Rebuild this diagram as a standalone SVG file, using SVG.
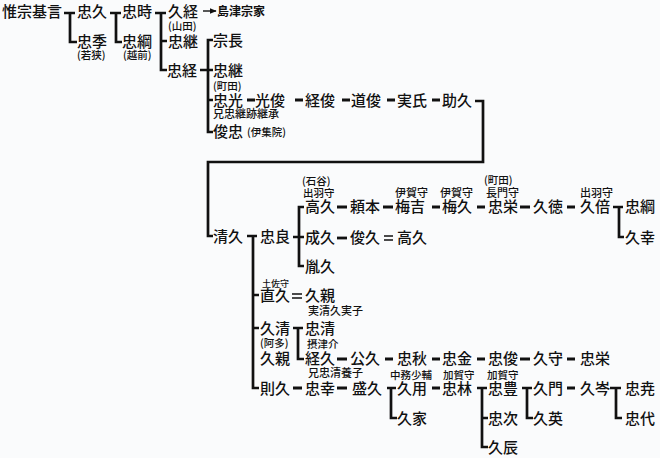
<svg xmlns="http://www.w3.org/2000/svg" width="660" height="458" viewBox="0 0 660 458">
<defs>
<style>
text{font-family:"Noto Sans CJK JP","Noto Sans CJK SC",sans-serif;fill:#111;}
.n{font-size:15px;font-weight:500;}
.s{font-size:10.5px;font-weight:500;}
.m{font-size:11px;font-weight:500;}
.t{font-size:9px;font-weight:500;}
.c{fill:none;stroke:#111;stroke-width:2.7;}
.d{fill:none;stroke:#111;stroke-width:2.8;}
.e{fill:none;stroke:#111;stroke-width:1.4;}
.a{fill:none;stroke:#111;stroke-width:1.4;}
</style>
<marker id="ah" viewBox="0 0 10 10" refX="9" refY="5" markerWidth="5" markerHeight="5" orient="auto">
<path d="M0,1 L10,5 L0,9 z" fill="#111"/>
</marker>
</defs>
<rect width="660" height="458" fill="#fafbfc"/>
<g id="connectors">
<path class="c" d="M64,13 H75 M70,13 V42 H77"/>
<path class="c" d="M110,13 H121 M116,13 V42 H122"/>
<path class="c" d="M155,13 H166 M161,13 V70 H167 M161,41 H167"/>
<path class="a" d="M203,11 H216" marker-end="url(#ah)"/>
<path class="c" d="M200,70 H213 M213,40 H208 V132 H213 M208,100 H213"/>
<path class="d" d="M247,100 H255 M295,100 H303 M342,100 H350 M387,100 H395 M432,100 H440"/>
<path class="c" d="M475,101 H483 V162 H208 V236 H213"/>
<path class="c" d="M247,236 H257 M253,236 V388 H259 M253,295 H259 M253,328 H259"/>
<path class="c" d="M293,237 H304 M304,207 H299 V266 H304"/>
<path class="d" d="M337,207 H347 M383,207 H393 M432,207 H440 M477,207 H485 M520,207 H530 M567,207 H575"/>
<path class="c" d="M613,207 H623 M619,207 V237 H624"/>
<path class="d" d="M337,238 H347"/>
<path class="e" d="M384,236 H393 M384,240 H393"/>
<path class="e" d="M292,294 H302 M292,298 H302"/>
<path class="c" d="M293,328 H303 M298,328 V359 H304"/>
<path class="d" d="M337,359 H347 M385,359 H393 M432,359 H440 M477,359 H485 M520,359 H530 M567,359 H575"/>
<path class="d" d="M293,388 H302 M337,388 H347 M432,388 H440 M567,388 H575"/>
<path class="c" d="M387,388 H396 M391,388 V418 H397"/>
<path class="c" d="M477,388 H487 M482,388 V447 H488 M482,418 H488"/>
<path class="c" d="M522,388 H532 M527,388 V418 H533"/>
<path class="c" d="M610,388 H621 M616,388 V418 H622"/>
</g>
<g id="n-koremune"><text class="n" x="2" y="17">惟宗基言</text></g>
<g id="n-tadahisa"><text class="n" x="77" y="17">忠久</text></g>
<g id="n-tadasue"><text class="n" x="77" y="47">忠季</text><text class="s" x="77" y="59">(若狭)</text></g>
<g id="n-tadatoki"><text class="n" x="122" y="17">忠時</text></g>
<g id="n-tadatsuna1"><text class="n" x="122" y="47">忠綱</text><text class="s" x="123" y="59">(越前)</text></g>
<g id="n-hisatsune"><text class="n" x="168" y="17">久経</text></g>
<g id="n-souke"><text style="font-size:12px;font-weight:700" x="217" y="16">島津宗家</text></g>
<g id="n-tadatsugu1"><text class="s" x="168" y="30">(山田)</text><text class="n" x="168" y="47">忠継</text></g>
<g id="n-tadatsune"><text class="n" x="167" y="76">忠経</text></g>
<g id="n-munenaga"><text class="n" x="213" y="46">宗長</text></g>
<g id="n-tadatsugu2"><text class="n" x="213" y="76">忠継</text><text class="s" x="213" y="90">(町田)</text></g>
<g id="n-tadamitsu"><text class="n" x="213" y="106">忠光</text><text class="m" x="213" y="118">兄忠継跡継承</text></g>
<g id="n-toshitada"><text class="n" x="213" y="137">俊忠</text><text class="s" x="247" y="136">(伊集院)</text></g>
<g id="n-mitsutoshi"><text class="n" x="255" y="106">光俊</text></g>
<g id="n-tsunetoshi"><text class="n" x="305" y="106">経俊</text></g>
<g id="n-michitoshi"><text class="n" x="351" y="106">道俊</text></g>
<g id="n-saneuji"><text class="n" x="397" y="106">実氏</text></g>
<g id="n-sukehisa"><text class="n" x="442" y="106">助久</text></g>
<g id="n-kiyohisa"><text class="n" x="213" y="242">清久</text></g>
<g id="n-tadayoshi"><text class="n" x="260" y="242">忠良</text></g>
<g id="n-takahisa1"><text class="s" x="302" y="185">(石谷)</text><text class="s" x="303" y="197">出羽守</text><text class="n" x="305" y="212">高久</text></g>
<g id="n-yorimoto"><text class="n" x="350" y="212">頼本</text></g>
<g id="n-umeyoshi"><text class="m" x="395" y="197">伊賀守</text><text class="n" x="395" y="212">梅吉</text></g>
<g id="n-umehisa"><text class="m" x="440" y="197">伊賀守</text><text class="n" x="442" y="212">梅久</text></g>
<g id="n-tadahide1"><text class="s" x="484" y="184">(町田)</text><text class="m" x="486" y="197">長門守</text><text class="n" x="488" y="212">忠栄</text></g>
<g id="n-hisanori"><text class="n" x="533" y="212">久徳</text></g>
<g id="n-hisamasu"><text class="m" x="580" y="197">出羽守</text><text class="n" x="580" y="212">久倍</text></g>
<g id="n-tadatsuna2"><text class="n" x="625" y="212">忠綱</text></g>
<g id="n-hisayuki"><text class="n" x="625" y="243">久幸</text></g>
<g id="n-narihisa"><text class="n" x="305" y="243">成久</text></g>
<g id="n-toshihisa"><text class="n" x="350" y="243">俊久</text></g>
<g id="n-takahisa2"><text class="n" x="397" y="243">高久</text></g>
<g id="n-tanehisa"><text class="n" x="305" y="272">胤久</text></g>
<g id="n-naohisa"><text class="t" x="262" y="287">土佐守</text><text class="n" x="260" y="301">直久</text></g>
<g id="n-hisachika1"><text class="n" x="305" y="301">久親</text><text class="m" x="308" y="315">実清久実子</text></g>
<g id="n-hisakiyo"><text class="n" x="260" y="334">久清</text><text class="s" x="260" y="347">(阿多)</text></g>
<g id="n-tadakiyo"><text class="n" x="305" y="334">忠清</text></g>
<g id="n-hisachika2"><text class="n" x="260" y="364">久親</text></g>
<g id="n-tsunehisa"><text class="s" x="307" y="348">摂津介</text><text class="n" x="305" y="364">経久</text><text class="m" x="308" y="377">兄忠清養子</text></g>
<g id="n-kimihisa"><text class="n" x="350" y="364">公久</text></g>
<g id="n-tadaaki"><text class="n" x="397" y="364">忠秋</text></g>
<g id="n-tadakane"><text class="n" x="442" y="364">忠金</text></g>
<g id="n-tadatoshi"><text class="n" x="488" y="364">忠俊</text></g>
<g id="n-hisamori"><text class="n" x="533" y="364">久守</text></g>
<g id="n-tadahide2"><text class="n" x="580" y="364">忠栄</text></g>
<g id="n-norihisa"><text class="n" x="260" y="394">則久</text></g>
<g id="n-tadayuki"><text class="n" x="305" y="394">忠幸</text></g>
<g id="n-morihisa"><text class="n" x="352" y="394">盛久</text></g>
<g id="n-hisamochi"><text class="s" x="390" y="379">中務少輔</text><text class="n" x="397" y="394">久用</text></g>
<g id="n-tadashige"><text class="s" x="443" y="379">加賀守</text><text class="n" x="442" y="394">忠林</text></g>
<g id="n-tadatoyo"><text class="s" x="487" y="379">加賀守</text><text class="n" x="488" y="394">忠豊</text></g>
<g id="n-hisakado"><text class="n" x="533" y="394">久門</text></g>
<g id="n-hisamine"><text class="n" x="580" y="394">久岑</text></g>
<g id="n-tadataka"><text class="n" x="625" y="394">忠尭</text></g>
<g id="n-hisaie"><text class="n" x="397" y="424">久家</text></g>
<g id="n-tadatsugu3"><text class="n" x="488" y="424">忠次</text></g>
<g id="n-hisahide"><text class="n" x="533" y="424">久英</text></g>
<g id="n-tadayo"><text class="n" x="625" y="424">忠代</text></g>
<g id="n-hisatoki"><text class="n" x="488" y="453">久辰</text></g>
</svg>
